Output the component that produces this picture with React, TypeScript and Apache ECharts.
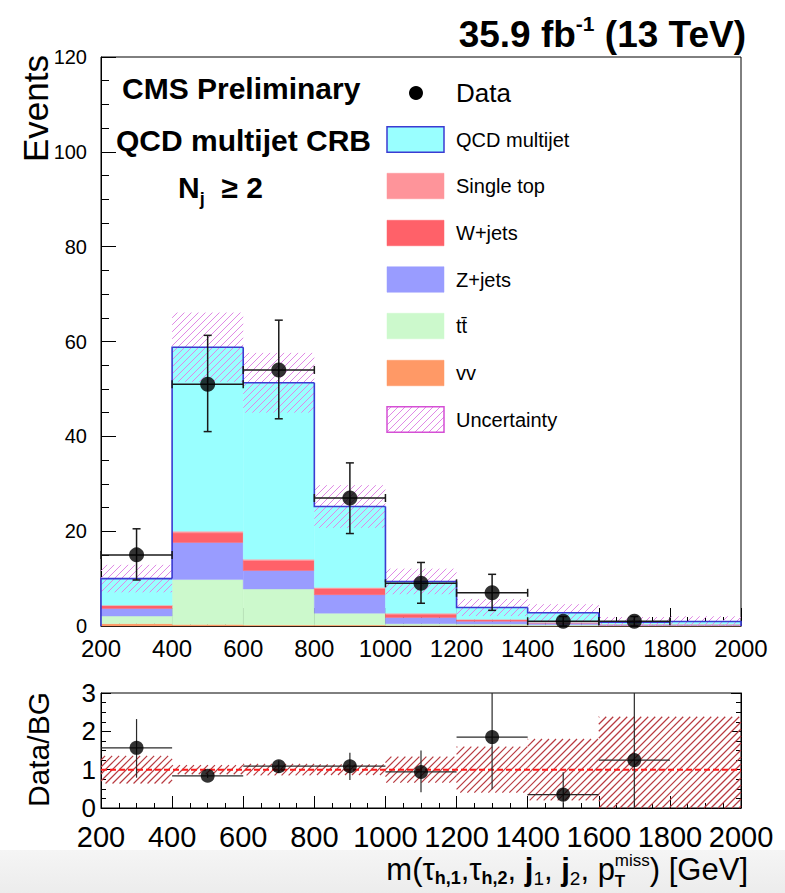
import React, { useEffect, useRef } from 'react';
import * as echarts from 'echarts';

// Histogram binning in m(tau_h1, tau_h2, j1, j2, pTmiss) [GeV]
const binEdges = [200, 400, 600, 800, 1000, 1200, 1400, 1600, 1800, 2000];

// Background expectations per bin (events)
const qcdMultijet = [5.6, 38.8, 37.2, 17.1, 6.7, 2.5, 2.0, 0.45, 0.6];
const singleTop = [0.1, 0.4, 0.3, 0.2, 0.2, 0.1, 0.05, 0.05, 0.05];
const wJets = [0.6, 2.0, 2.1, 1.3, 0.7, 0.3, 0.15, 0.1, 0.1];
const zJets = [1.6, 7.8, 3.9, 3.9, 1.3, 0.6, 0.35, 0.1, 0.1];
const ttbar = [1.6, 9.5, 7.6, 2.5, 0.4, 0.3, 0.2, 0.05, 0.05];
const diboson = [0.5, 0.3, 0.2, 0.2, 0.1, 0.1, 0.05, 0.05, 0.05];
const bkgUncertainty = [2.9, 7.3, 6.3, 4.5, 2.7, 1.8, 1.8, 1.1, 1.1];

// Observed data
const dataCounts = [15, 51, 54, 27, 9, 7, 1, 1, 0];
const dataErrUp = [5.5, 10.3, 10.5, 7.4, 4.4, 3.9, 1.0, 1.0, 0];
const dataErrDown = [5.3, 10.0, 10.3, 7.5, 4.2, 3.7, 1.0, 1.0, 0];

// Data / background ratio
const ratioValues = [1.57, 0.84, 1.09, 1.09, 0.94, 1.85, 0.35, 1.25, 0];
const ratioErrUp = [0.75, 0.06, 0.15, 0.35, 0.56, 1.3, 0.58, 2.0, 0];
const ratioErrDown = [0.78, 0.06, 0.18, 0.36, 0.53, 1.36, 0.35, 1.25, 0];
const ratioBandHalfWidth = [0.36, 0.12, 0.15, 0.14, 0.34, 0.6, 0.8, 1.38, 1.38];

const yTicksTop = { min: 0, max: 120, interval: 20 };
const yTicksRatio = { min: 0, max: 3, interval: 1 };

const FONT = '"Liberation Sans", Arial, Helvetica, sans-serif';

const COLORS = {
  qcd: '#99ffff',
  qcdLine: '#3b3bd2',
  singleTop: '#fe949a',
  wJets: '#ff6169',
  zJets: '#999cff',
  ttbar: '#ccf9cc',
  diboson: '#ff9966',
  hatchTop: '#e089e6',
  hatchTopBorder: '#d54fd5',
  hatchRatio: '#b83a40',
};

const measureCtx = document.createElement('canvas').getContext('2d') as CanvasRenderingContext2D;
function textWidth(text: string, size: number, bold?: boolean) {
  measureCtx.font = `${bold ? 'bold ' : ''}${size}px ${FONT}`;
  return measureCtx.measureText(text).width;
}

type Seg = { t: string; size: number; bold?: boolean; dy?: number; noAdvance?: boolean };

// Lays out a run of text pieces (for sub/superscripts) along one line.
function textRun(segs: Seg[], x: number, y: number, anchor: 'left' | 'right') {
  const widths = segs.map((s) => (s.noAdvance ? 0 : textWidth(s.t, s.size, s.bold)));
  const total = widths.reduce((a, b) => a + b, 0);
  let cx = anchor === 'left' ? x : x - total;
  return segs.map((s, i) => {
    const el = {
      type: 'text',
      x: cx,
      y: y + (s.dy || 0),
      style: {
        text: s.t,
        fontSize: s.size,
        fontWeight: s.bold ? 'bold' : 'normal',
        fontFamily: FONT,
        fill: '#000',
        align: 'left',
        verticalAlign: 'middle',
      },
    };
    cx += widths[i];
    return el;
  });
}

// Diagonal "/" hatch segments inside a pixel rectangle (y0 top, y1 bottom).
function hatchSegments(x0: number, y0: number, x1: number, y1: number, step: number) {
  const segs: number[][] = [];
  const cStart = Math.ceil((x0 + y0) / step) * step;
  for (let c = cStart; c <= x1 + y1; c += step) {
    const xa = Math.max(x0, c - y1);
    const xb = Math.min(x1, c - y0);
    if (xb > xa) segs.push([xa, c - xa, xb, c - xb]);
  }
  return segs;
}

function rectRenderer(color: string) {
  return (_params: any, api: any) => {
    const a = api.coord([api.value(0), api.value(3)]);
    const b = api.coord([api.value(1), api.value(2)]);
    return {
      type: 'rect',
      shape: { x: a[0], y: a[1], width: b[0] - a[0], height: b[1] - a[1] },
      style: { fill: color, stroke: color, lineWidth: 0.4 },
    };
  };
}

function hatchRenderer(color: string, step: number, width: number) {
  return (_params: any, api: any) => {
    const a = api.coord([api.value(0), api.value(3)]);
    const b = api.coord([api.value(1), api.value(2)]);
    const segs = hatchSegments(a[0], a[1], b[0], b[1], step);
    return {
      type: 'group',
      children: segs.map((s) => ({
        type: 'line',
        shape: { x1: s[0], y1: s[1], x2: s[2], y2: s[3] },
        style: { stroke: color, lineWidth: width },
      })),
    };
  };
}

function errorBarRenderer(cap: number, color: string, width: number) {
  return (_params: any, api: any) => {
    const xc = api.value(0);
    const y = api.value(3);
    const pl = api.coord([api.value(1), y]);
    const pr = api.coord([api.value(2), y]);
    const plo = api.coord([xc, api.value(4)]);
    const phi = api.coord([xc, api.value(5)]);
    const lines: number[][] = [
      [pl[0], pl[1], pr[0], pr[1]],
      [plo[0], plo[1], phi[0], phi[1]],
    ];
    if (cap > 0) {
      lines.push([phi[0] - cap, phi[1], phi[0] + cap, phi[1]]);
      lines.push([plo[0] - cap, plo[1], plo[0] + cap, plo[1]]);
      lines.push([pl[0], pl[1] - cap, pl[0], pl[1] + cap]);
      lines.push([pr[0], pr[1] - cap, pr[0], pr[1] + cap]);
    }
    return {
      type: 'group',
      children: lines.map((l) => ({
        type: 'line',
        shape: { x1: l[0], y1: l[1], x2: l[2], y2: l[3] },
        style: { stroke: color, lineWidth: width },
      })),
    };
  };
}

function buildOption() {
  const nBins = binEdges.length - 1;
  const centers = binEdges.slice(0, -1).map((e, i) => (e + binEdges[i + 1]) / 2);

  // stacking order, bottom to top
  const processes = [
    { name: 'VV', values: diboson, color: COLORS.diboson },
    { name: 'ttbar', values: ttbar, color: COLORS.ttbar },
    { name: 'Z+jets', values: zJets, color: COLORS.zJets },
    { name: 'W+jets', values: wJets, color: COLORS.wJets },
    { name: 'Single top', values: singleTop, color: COLORS.singleTop },
    { name: 'QCD multijet', values: qcdMultijet, color: COLORS.qcd },
  ];

  const series: any[] = [];
  let base = new Array(nBins).fill(0);
  processes.forEach((p) => {
    const data = p.values.map((v, i) => [binEdges[i], binEdges[i + 1], base[i], base[i] + v]);
    base = base.map((b, i) => b + p.values[i]);
    series.push({
      type: 'custom',
      name: p.name,
      xAxisIndex: 0,
      yAxisIndex: 0,
      z: 2,
      silent: true,
      renderItem: rectRenderer(p.color),
      encode: { x: [0, 1], y: [2, 3] },
      data,
    });
  });
  const totals = base;

  // background uncertainty band
  series.push({
    type: 'custom',
    name: 'Uncertainty',
    xAxisIndex: 0,
    yAxisIndex: 0,
    z: 3,
    silent: true,
    renderItem: hatchRenderer(COLORS.hatchTop, 7, 1),
    encode: { x: [0, 1], y: [2, 3] },
    data: totals.map((t, i) => [binEdges[i], binEdges[i + 1], Math.max(0, t - bkgUncertainty[i]), t + bkgUncertainty[i]]),
  });

  // outline of the total stack
  series.push({
    type: 'custom',
    name: 'stack outline',
    xAxisIndex: 0,
    yAxisIndex: 0,
    z: 4,
    silent: true,
    renderItem: (_params: any, api: any) => {
      const x0 = api.value(0);
      const x1 = api.value(1);
      const prev = api.value(2);
      const t = api.value(3);
      const last = api.value(4);
      const pts = [api.coord([x0, prev]), api.coord([x0, t]), api.coord([x1, t])];
      if (last) pts.push(api.coord([x1, 0]));
      return {
        type: 'polyline',
        shape: { points: pts },
        style: { stroke: COLORS.qcdLine, lineWidth: 1.6, fill: 'none' },
      };
    },
    encode: { x: [0, 1], y: [2, 3] },
    data: totals.map((t, i) => [binEdges[i], binEdges[i + 1], i === 0 ? 0 : totals[i - 1], t, i === nBins - 1 ? 1 : 0]),
  });

  const dataIdx = dataCounts.map((_, i) => i).filter((i) => dataCounts[i] > 0);

  series.push({
    type: 'custom',
    name: 'data errors',
    xAxisIndex: 0,
    yAxisIndex: 0,
    z: 5,
    silent: true,
    renderItem: errorBarRenderer(4, '#1a1a1a', 1.5),
    encode: { x: [1, 2], y: [4, 5] },
    data: dataIdx.map((i) => [
      centers[i],
      binEdges[i],
      binEdges[i + 1],
      dataCounts[i],
      dataCounts[i] - dataErrDown[i],
      dataCounts[i] + dataErrUp[i],
    ]),
  });

  series.push({
    type: 'scatter',
    name: 'Data',
    xAxisIndex: 0,
    yAxisIndex: 0,
    z: 6,
    symbol: 'circle',
    symbolSize: 15,
    itemStyle: { color: '#000' },
    data: dataIdx.map((i) => [centers[i], dataCounts[i]]),
  });

  // ratio panel
  series.push({
    type: 'custom',
    name: 'ratio uncertainty',
    xAxisIndex: 1,
    yAxisIndex: 1,
    z: 2,
    silent: true,
    renderItem: hatchRenderer(COLORS.hatchRatio, 7, 1.2),
    encode: { x: [0, 1], y: [2, 3] },
    data: ratioBandHalfWidth.map((h, i) => [
      binEdges[i],
      binEdges[i + 1],
      Math.max(yTicksRatio.min, 1 - h),
      Math.min(yTicksRatio.max, 1 + h),
    ]),
  });

  series.push({
    type: 'line',
    name: 'unity',
    xAxisIndex: 1,
    yAxisIndex: 1,
    z: 3,
    symbol: 'none',
    silent: true,
    lineStyle: { color: '#ff1a1a', width: 2, type: [6, 3] },
    data: [
      [binEdges[0], 1],
      [binEdges[nBins], 1],
    ],
  });

  series.push({
    type: 'custom',
    name: 'ratio errors',
    xAxisIndex: 1,
    yAxisIndex: 1,
    z: 4,
    silent: true,
    renderItem: errorBarRenderer(0, '#2a2a2a', 1.2),
    encode: { x: [1, 2], y: [4, 5] },
    data: dataIdx.map((i) => [
      centers[i],
      binEdges[i],
      binEdges[i + 1],
      ratioValues[i],
      Math.max(yTicksRatio.min, ratioValues[i] - ratioErrDown[i]),
      Math.min(yTicksRatio.max, ratioValues[i] + ratioErrUp[i]),
    ]),
  });

  series.push({
    type: 'scatter',
    name: 'Data/BG',
    xAxisIndex: 1,
    yAxisIndex: 1,
    z: 5,
    symbol: 'circle',
    symbolSize: 14,
    itemStyle: { color: '#000' },
    data: dataIdx.map((i) => [centers[i], ratioValues[i]]),
  });

  // legend, drawn by hand
  const legendRows = [
    { label: 'QCD multijet', fill: COLORS.qcd, stroke: COLORS.qcdLine, cy: 139.5 },
    { label: 'Single top', fill: COLORS.singleTop, stroke: COLORS.singleTop, cy: 186 },
    { label: 'W+jets', fill: COLORS.wJets, stroke: COLORS.wJets, cy: 233 },
    { label: 'Z+jets', fill: COLORS.zJets, stroke: COLORS.zJets, cy: 279.5 },
    { label: 'tt\u0304', fill: COLORS.ttbar, stroke: COLORS.ttbar, cy: 326 },
    { label: 'vv', fill: COLORS.diboson, stroke: COLORS.diboson, cy: 373 },
    { label: 'Uncertainty', fill: 'none', stroke: COLORS.hatchTopBorder, cy: 419.5, hatch: true },
  ];
  const boxX = 387;
  const boxW = 57;
  const boxH = 25.5;
  const textX = 456;

  const graphics: any[] = [
    {
      type: 'rect',
      z: -10,
      shape: { x: 0, y: 850, width: 785, height: 43 },
      style: {
        fill: new echarts.graphic.LinearGradient(0, 0, 0, 1, [
          { offset: 0, color: '#f5f5f5' },
          { offset: 1, color: '#ececec' },
        ]),
      },
      silent: true,
    },
    { type: 'circle', shape: { cx: 416, cy: 93, r: 7 }, style: { fill: '#000' } },
    {
      type: 'text',
      x: textX,
      y: 93,
      style: { text: 'Data', fontSize: 26, fontFamily: FONT, fill: '#000', verticalAlign: 'middle' },
    },
  ];
  legendRows.forEach((r) => {
    const y0 = r.cy - boxH / 2;
    if (r.hatch) {
      hatchSegments(boxX, y0, boxX + boxW, y0 + boxH, 7).forEach((s) =>
        graphics.push({
          type: 'line',
          shape: { x1: s[0], y1: s[1], x2: s[2], y2: s[3] },
          style: { stroke: COLORS.hatchTop, lineWidth: 1 },
        })
      );
    }
    graphics.push({
      type: 'rect',
      shape: { x: boxX, y: y0, width: boxW, height: boxH },
      style: { fill: r.fill, stroke: r.stroke, lineWidth: r.hatch || r.stroke === COLORS.qcdLine ? 1.5 : 0.5 },
    });
    graphics.push({
      type: 'text',
      x: textX,
      y: r.cy,
      style: { text: r.label, fontSize: 20, fontFamily: FONT, fill: '#000', verticalAlign: 'middle' },
    });
  });

  // headers and labels
  graphics.push(
    ...textRun(
      [
        { t: '35.9 fb', size: 37, bold: true },
        { t: '-1', size: 21, bold: true, dy: -11 },
        { t: ' (13 TeV)', size: 37, bold: true },
      ],
      746,
      34,
      'right'
    )
  );
  graphics.push(...textRun([{ t: 'CMS Preliminary', size: 30, bold: true }], 122, 88, 'left'));
  graphics.push(...textRun([{ t: 'QCD multijet CRB', size: 30, bold: true }], 116, 140, 'left'));
  graphics.push(
    ...textRun(
      [
        { t: 'N', size: 30, bold: true },
        { t: 'j', size: 18, bold: true, dy: 12 },
        { t: '  \u2265 2', size: 30, bold: true },
      ],
      178,
      187,
      'left'
    )
  );
  graphics.push({
    type: 'text',
    x: 35,
    y: 55,
    rotation: Math.PI / 2,
    style: { text: 'Events', fontSize: 35, fontFamily: FONT, fill: '#000', align: 'right', verticalAlign: 'middle' },
  });
  graphics.push({
    type: 'text',
    x: 38,
    y: 692,
    rotation: Math.PI / 2,
    style: { text: 'Data/BG', fontSize: 30, fontFamily: FONT, fill: '#000', align: 'right', verticalAlign: 'middle' },
  });
  graphics.push(
    ...textRun(
      [
        { t: 'm(\u03c4', size: 31 },
        { t: 'h,1', size: 18, bold: true, dy: 9 },
        { t: ',\u03c4', size: 31 },
        { t: 'h,2', size: 18, bold: true, dy: 9 },
        { t: ', ', size: 31 },
        { t: 'j', size: 31, bold: true },
        { t: '1', size: 19, dy: 9 },
        { t: ', ', size: 31 },
        { t: 'j', size: 31, bold: true },
        { t: '2', size: 19, dy: 9 },
        { t: ', p', size: 31 },
        { t: 'T', size: 17, bold: true, dy: 12, noAdvance: true },
        { t: 'miss', size: 17, dy: -9 },
        { t: ') [GeV]', size: 31 },
      ],
      748,
      869,
      'right'
    )
  );

  const tickStyle = { color: '#000', width: 1 };
  const intFormatter = (v: number) => String(v);

  return {
    animation: false,
    backgroundColor: '#ffffff',
    textStyle: { fontFamily: FONT },
    grid: [
      { left: 101, top: 57, width: 640, height: 569, show: true, borderColor: '#000', borderWidth: 1, backgroundColor: 'transparent' },
      { left: 101, top: 693, width: 640, height: 115, show: true, borderColor: '#000', borderWidth: 1, backgroundColor: 'transparent' },
    ],
    xAxis: [
      {
        type: 'value',
        gridIndex: 0,
        min: binEdges[0],
        max: binEdges[nBins],
        interval: 200,
        axisLine: { show: true, lineStyle: tickStyle },
        axisTick: { show: true, inside: true, length: 18, lineStyle: tickStyle },
        minorTick: { show: true, splitNumber: 4, length: 9, lineStyle: tickStyle },
        splitLine: { show: false },
        axisLabel: { fontSize: 24, lineHeight: 20, color: '#000', margin: 12, fontFamily: FONT, formatter: intFormatter },
      },
      {
        type: 'value',
        gridIndex: 1,
        min: binEdges[0],
        max: binEdges[nBins],
        interval: 200,
        axisLine: { show: true, lineStyle: tickStyle },
        axisTick: { show: true, inside: true, length: 12, lineStyle: tickStyle },
        minorTick: { show: true, splitNumber: 4, length: 5, lineStyle: tickStyle },
        splitLine: { show: false },
        axisLabel: { fontSize: 29, lineHeight: 22, color: '#000', margin: 18, fontFamily: FONT, formatter: intFormatter },
      },
    ],
    yAxis: [
      {
        type: 'value',
        gridIndex: 0,
        ...yTicksTop,
        axisLine: { show: true, lineStyle: tickStyle },
        axisTick: { show: true, inside: true, length: 15, lineStyle: tickStyle },
        minorTick: { show: true, splitNumber: 4, length: 8, lineStyle: tickStyle },
        splitLine: { show: false },
        axisLabel: { fontSize: 20, lineHeight: 16, color: '#000', margin: 14, fontFamily: FONT, formatter: intFormatter },
      },
      {
        type: 'value',
        gridIndex: 1,
        ...yTicksRatio,
        axisLine: { show: true, lineStyle: tickStyle },
        axisTick: { show: true, inside: true, length: 10, lineStyle: tickStyle },
        minorTick: { show: true, splitNumber: 4, length: 5, lineStyle: tickStyle },
        splitLine: { show: false },
        axisLabel: { fontSize: 26, lineHeight: 20, color: '#000', margin: 5, fontFamily: FONT, formatter: intFormatter },
      },
      {
        type: 'value',
        gridIndex: 1,
        position: 'right',
        ...yTicksRatio,
        axisLine: { show: true, lineStyle: tickStyle },
        axisTick: { show: true, inside: true, length: 10, lineStyle: tickStyle },
        minorTick: { show: true, splitNumber: 4, length: 5, lineStyle: tickStyle },
        splitLine: { show: false },
        axisLabel: { show: false },
      },
    ],
    graphic: { elements: graphics },
    series,
  };
}

export default function App() {
  const ref = useRef<HTMLDivElement>(null);
  useEffect(() => {
    if (!ref.current) return;
    const chart = echarts.init(ref.current, null, { renderer: 'svg' });
    chart.setOption(buildOption() as any);
    return () => chart.dispose();
  }, []);
  return (
    <div
      ref={ref}
      style={{ position: 'fixed', left: 0, top: 0, width: 785, height: 893, background: '#fff' }}
    />
  );
}
